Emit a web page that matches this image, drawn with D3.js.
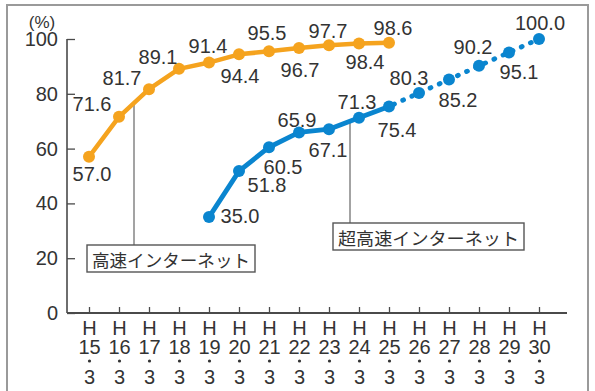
<!DOCTYPE html>
<html><head><meta charset="utf-8">
<script src="https://cdn.jsdelivr.net/npm/d3@7"></script>
<style>
html,body{margin:0;padding:0;background:#fff;}
svg{display:block;}
text{font-family:"Liberation Sans",Arial,Helvetica,sans-serif;fill:#333;}
.jp{font-family:"Noto Sans CJK JP","Noto Sans CJK SC",sans-serif;}
</style></head>
<body>
<svg id="c" width="595" height="391"></svg>
<script>
// ---- data ----
const categories = ["15","16","17","18","19","20","21","22","23","24","25","26","27","28","29","30"];
const highSpeedCats = ["15","16","17","18","19","20","21","22","23","24","25"];
const highSpeedVals = [57.0,71.6,81.7,89.1,91.4,94.4,95.5,96.7,97.7,98.4,98.6];
const ultraSolidCats = ["19","20","21","22","23","24","25"];
const ultraSolidVals = [35.0,51.8,60.5,65.9,67.1,71.3,75.4];
const ultraDottedCats = ["25","26","27","28","29","30"];
const ultraDottedVals = [75.4,80.3,85.2,90.2,95.1,100.0];
const yTicks = [0,20,40,60,80,100];
const seriesNames = ["高速インターネット","超高速インターネット"];

// ---- label placement (layout only) ----
const hsLabelOff = [[3,17],[-27,-13],[-27,-11],[-21,-12],[-1,-17],[1,22],[-2,-18],[1,22],[-1,-14],[6,19],[4,-15]];
const ulCats = ["19","20","21","22","23","24","25","26","27","28","29","30"];
const ulVals = [35.0,51.8,60.5,65.9,67.1,71.3,75.4,80.3,85.2,90.2,95.1,100.0];
const ulLabelOff = [[31,-1],[28,14],[14,20],[-2,-12],[-1,21],[-2,-16],[8,24],[-10,-15],[9,20],[-6,-19],[10,20],[1,-16]];

const ORANGE = "#F5A31E", BLUE = "#0A85CF", AXIS = "#4a4a4a";
const svg = d3.select("#c");

// frame
svg.append("rect").attr("x",7).attr("y",5).attr("width",581).attr("height",420)
  .attr("fill","none").attr("stroke","#9a9a9a").attr("stroke-width",2);

const x = d3.scalePoint().domain(categories).range([89,539]);
const y = d3.scaleLinear().domain([0,100]).range([313,39]);
const X0 = 67, X1 = 567;

// y axis
const gy = svg.append("g").attr("transform",`translate(${X0},0)`)
  .call(d3.axisLeft(y).tickValues(yTicks).tickSize(-8).tickPadding(9));
gy.select(".domain").remove();
gy.selectAll(".tick line").attr("stroke",AXIS).attr("stroke-width",1.3);
gy.selectAll(".tick text").attr("font-size",20).attr("fill","#333")
  .style("font-family","'Liberation Sans',Arial,sans-serif");
svg.append("line").attr("x1",X0).attr("x2",X0).attr("y1",y(100)).attr("y2",y(0))
  .attr("stroke",AXIS).attr("stroke-width",1.6);

// x axis
const gx = svg.append("g").attr("transform",`translate(0,${y(0)})`)
  .call(d3.axisBottom(x).tickSize(-6).tickFormat(""));
gx.select(".domain").remove();
gx.selectAll(".tick line").attr("stroke",AXIS).attr("stroke-width",1.3);
svg.append("line").attr("x1",X0).attr("x2",X1).attr("y1",y(0)).attr("y2",y(0))
  .attr("stroke",AXIS).attr("stroke-width",1.8);
gx.selectAll(".tick").each(function(d){
  const g = d3.select(this);
  const t = g.append("text").attr("text-anchor","middle").attr("font-size",20);
  t.append("tspan").attr("x",0).attr("y",22).text("H");
  t.append("tspan").attr("x",0).attr("y",41).text(d);
  g.append("circle").attr("cx",0).attr("cy",48).attr("r",1.6).attr("fill","#333");
  g.append("text").attr("text-anchor","middle").attr("font-size",20).attr("y",71).text("3");
});

// unit
svg.append("text").attr("x",42).attr("y",22).attr("text-anchor","middle").attr("dominant-baseline","central")
  .attr("font-size",17).text("(%)");

// callouts
function callout(cx, yTop, yBox, bx, by, bw, bh, label){
  svg.append("line").attr("x1",cx).attr("x2",cx).attr("y1",yTop).attr("y2",yBox)
    .attr("stroke","#666").attr("stroke-width",1.2);
  svg.append("rect").attr("x",bx).attr("y",by).attr("width",bw).attr("height",bh)
    .attr("fill","#fff").attr("stroke","#555").attr("stroke-width",1.4);
  svg.append("text").attr("class","jp").attr("x",bx+bw/2).attr("y",by+bh/2+1)
    .attr("text-anchor","middle").attr("dominant-baseline","central").attr("font-size",17.5)
    .attr("textLength",bw-10).attr("lengthAdjust","spacingAndGlyphs").text(label);
}
callout(134, 103, 245, 87, 245, 168, 27, seriesNames[0]);
callout(350, 121, 223, 333, 223, 191, 27, seriesNames[1]);

const line = d3.line().x(d=>x(d[0])).y(d=>y(d[1]));

// orange series
const hs = highSpeedCats.map((c,i)=>[c,highSpeedVals[i]]);
svg.append("path").datum(hs).attr("d",line).attr("fill","none")
  .attr("stroke",ORANGE).attr("stroke-width",4.5).attr("stroke-linejoin","round");
svg.selectAll(".hsdot").data(hs).join("circle").attr("cx",d=>x(d[0])).attr("cy",d=>y(d[1]))
  .attr("r",6).attr("fill",ORANGE);

// blue series
const us = ultraSolidCats.map((c,i)=>[c,ultraSolidVals[i]]);
const ud = ultraDottedCats.map((c,i)=>[c,ultraDottedVals[i]]);
svg.append("path").datum(ud).attr("d",line).attr("fill","none")
  .attr("stroke",BLUE).attr("stroke-width",4.8).attr("stroke-linecap","round")
  .attr("stroke-dasharray","1 9").attr("stroke-dashoffset",-5);
svg.append("path").datum(us).attr("d",line).attr("fill","none")
  .attr("stroke",BLUE).attr("stroke-width",4.8).attr("stroke-linejoin","round");
const ul = ulCats.map((c,i)=>[c,ulVals[i]]);
svg.selectAll(".uldot").data(ul).join("circle").attr("cx",d=>x(d[0])).attr("cy",d=>y(d[1]))
  .attr("r",6).attr("fill",BLUE);

// value labels
function labels(data, offs){
  svg.append("g").selectAll("text").data(data).join("text")
    .attr("x",(d,i)=>x(d[0])+offs[i][0]).attr("y",(d,i)=>y(d[1])+offs[i][1])
    .attr("text-anchor","middle").attr("dominant-baseline","central")
    .attr("font-size",20).text(d=>d3.format(".1f")(d[1]));
}
labels(hs, hsLabelOff);
labels(ul, ulLabelOff);
</script>
</body></html>
